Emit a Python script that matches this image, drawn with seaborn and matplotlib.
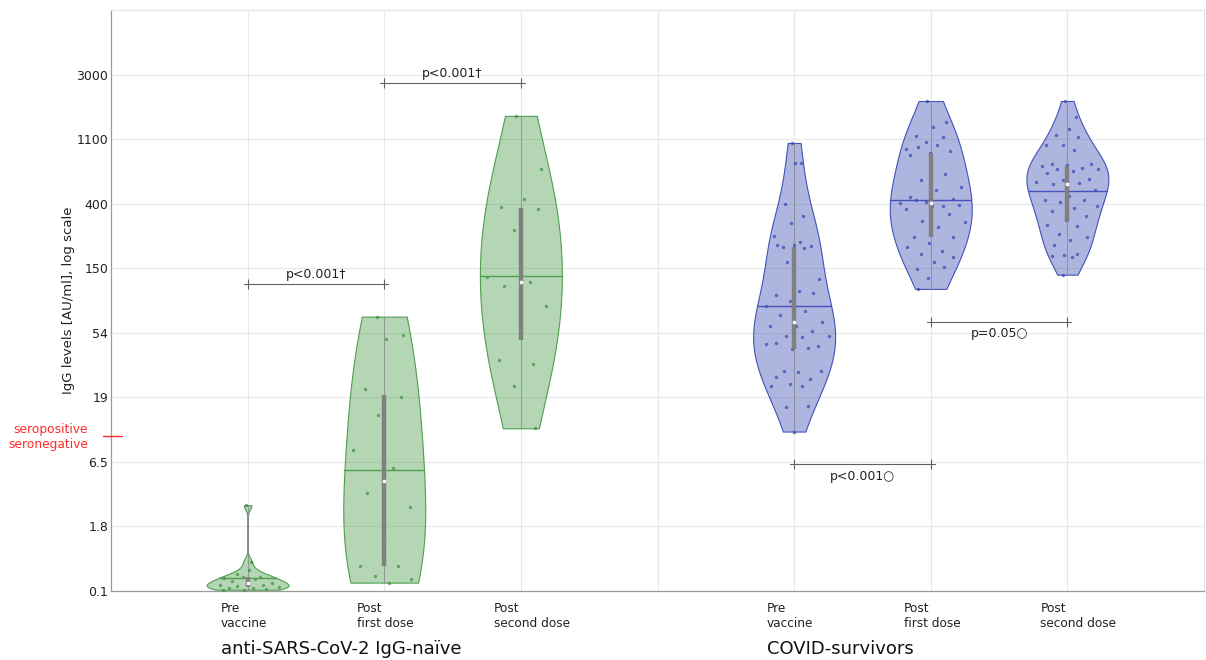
import numpy as np
import pandas as pd
import matplotlib
matplotlib.use("Agg")
import matplotlib.pyplot as plt
import matplotlib.transforms as mtransforms
import seaborn as sns

# ---------------- data ----------------
cond_order = ["naive_pre", "naive_first", "naive_second", "gap",
              "surv_pre", "surv_first", "surv_second"]
cond_labels = ["Pre\nvaccine", "Post\nfirst dose", "Post\nsecond dose", "",
               "Pre\nvaccine", "Post\nfirst dose", "Post\nsecond dose"]
group_labels = ["anti-SARS-CoV-2 IgG-naïve", "COVID-survivors"]
group_first = ["naive_pre", "surv_pre"]

# y axis: ln(1 + IgG [AU/ml]); tick positions and their labels
ytick_pos = [0, 1, 2, 3, 4, 5, 6, 7, 8, 9]
ytick_labels = ["0.1", "1.8", "6.5", "19", "54", "150", "400", "1100", "3000", ""]
seropos_threshold = 10  # AU/ml

# IgG levels, expressed as ln(1 + AU/ml)
naive_pre = [1.33, 0.45, 0.32, 0.27, 0.22, 0.21, 0.20, 0.18, 0.15, 0.13,
             0.12, 0.10, 0.09, 0.07, 0.06, 0.05, 0.04, 0.03, 0.02, 0.02]
naive_first = [4.25, 3.96, 3.90, 3.13, 3.01, 2.73, 2.19, 1.90, 1.52, 1.30,
               0.77, 0.39, 0.39, 0.23, 0.18, 0.13]
naive_second = [7.36, 6.53, 6.07, 5.95, 5.91, 5.59, 4.86, 4.79, 4.72, 4.42,
                4.19, 3.58, 3.51, 3.18, 2.52]
surv_pre = [6.94, 6.63, 6.63, 6.00, 5.81, 5.70, 5.50, 5.41, 5.33, 5.34,
            5.36, 5.36, 5.31, 5.10, 4.83, 4.64, 4.59, 4.61, 4.50, 4.41,
            4.34, 4.27, 4.16, 4.10, 4.10, 4.02, 3.95, 3.95, 3.93, 3.84,
            3.80, 3.75, 3.83, 3.76, 3.41, 3.41, 3.39, 3.32, 3.29, 3.20,
            3.17, 3.18, 2.85, 2.86, 2.47]
surv_first = [7.59, 7.26, 7.18, 7.05, 7.04, 6.96, 6.85, 6.91, 6.88, 6.81,
              6.78, 6.76, 6.46, 6.36, 6.26, 6.21, 6.11, 6.07, 6.03, 6.01,
              5.97, 6.06, 5.98, 5.96, 5.92, 5.84, 5.73, 5.71, 5.64, 5.48,
              5.49, 5.39, 5.33, 5.27, 5.22, 5.18, 5.09, 4.99, 5.02, 4.85, 4.68]
surv_second = [7.59, 7.35, 7.16, 7.06, 7.04, 6.91, 6.91, 6.83, 6.61, 6.61,
               6.60, 6.58, 6.55, 6.53, 6.53, 6.51, 6.48, 6.38, 6.36, 6.34,
               6.32, 6.30, 6.21, 6.12, 6.05, 6.05, 6.03, 5.96, 5.93, 5.88,
               5.81, 5.76, 5.67, 5.65, 5.53, 5.49, 5.43, 5.36, 5.22, 5.20,
               5.19, 5.17, 4.90]

# significance brackets: (from, to, level on ln(1+x) axis, text, side)
bracket_from = ["naive_pre", "naive_first", "surv_pre", "surv_first"]
bracket_to = ["naive_first", "naive_second", "surv_first", "surv_second"]
bracket_level = [4.757, 7.876, 1.961, 4.170]
bracket_text = ["p<0.001\u2020", "p<0.001\u2020", "p<0.001\u25CB", "p=0.05\u25CB"]
bracket_side = ["above", "above", "below", "below"]

series = {"naive_pre": naive_pre, "naive_first": naive_first,
          "naive_second": naive_second, "surv_pre": surv_pre,
          "surv_first": surv_first, "surv_second": surv_second}

df = pd.DataFrame([(k, v) for k, vals in series.items() for v in vals],
                  columns=["cond", "val"])

# ---------------- style ----------------
face = {"naive": (0.30, 0.62, 0.30, 0.42), "surv": (0.25, 0.32, 0.70, 0.42)}
edge = {"naive": "#4e9e4e", "surv": "#4252b8"}
dot = {"naive": "#3d8f3d", "surv": "#3344b0"}

sns.set_theme(style="white")
plt.rcParams["font.family"] = ["DejaVu Sans"]

fig = plt.figure(figsize=(12.06, 6.60), dpi=100)
ax = fig.add_axes([111 / 1206, 1 - 591 / 660, 1093 / 1206, 581 / 660])

pos_of = {c: i for i, c in enumerate(cond_order)}


def kde_factor(v):
    """MATLAB ksdensity-style bandwidth (robust sigma), as a factor of std."""
    v = np.asarray(v, dtype=float)
    sig = np.median(np.abs(v - np.median(v))) / 0.6745
    bw = sig * (4.0 / (3.0 * len(v))) ** 0.2
    return bw / v.std(ddof=1)


violin_coll = {}
for c, vals in series.items():
    cohort = "naive" if c.startswith("naive") else "surv"
    sub = df[df["cond"] == c]
    n0 = len(ax.collections)
    sns.violinplot(data=sub, x="cond", y="val", order=cond_order,
                   color=face[cohort][:3], saturation=1, inner=None, cut=0,
                   density_norm="width", width=0.6,
                   bw_method=kde_factor(vals),
                   linewidth=0.8, linecolor=edge[cohort], ax=ax, zorder=2)
    coll = ax.collections[n0]
    coll.set_facecolor(face[cohort])
    coll.set_edgecolor(edge[cohort])
    coll.set_linewidth(0.8)
    violin_coll[c] = coll


def half_width(coll, pos, yq):
    v = np.concatenate([p.vertices for p in coll.get_paths()])
    right = v[v[:, 0] > pos + 1e-9]
    o = np.argsort(right[:, 1])
    return np.interp(yq, right[o, 1], right[o, 0]) - pos


golden = 0.6180339887
for c, vals in series.items():
    cohort = "naive" if c.startswith("naive") else "surv"
    pos = pos_of[c]
    coll = violin_coll[c]
    y = np.asarray(vals, dtype=float)
    # whisker (min..max) thin line
    ax.plot([pos, pos], [y.min(), y.max()], color="#8c8c8c", lw=0.7,
            alpha=0.8, zorder=3)
    # jittered points, spread proportional to violin width
    frac = (np.arange(len(y)) * golden + 0.31) % 1.0
    xs = pos + 0.85 * (2 * frac - 1) * half_width(coll, pos, y)
    ax.scatter(xs, y, s=6, color=dot[cohort], alpha=0.7, lw=0, zorder=4)
    # mean line across the violin
    m = y.mean()
    hw = half_width(coll, pos, m)
    ax.plot([pos - hw, pos + hw], [m, m], color=edge[cohort], lw=1.0, zorder=5)
    # IQR bar and median dot
    q1, med, q3 = np.percentile(y, [25, 50, 75])
    ax.plot([pos, pos], [q1, q3], color="#808080", lw=3.2,
            solid_capstyle="butt", zorder=6)
    ax.plot([pos], [med], marker="s", ms=2.0, mfc="white", mec="white",
            zorder=7)

# significance brackets
for a, b, lev, txt, side in zip(bracket_from, bracket_to, bracket_level,
                                bracket_text, bracket_side):
    x0, x1 = pos_of[a], pos_of[b]
    ax.plot([x0 - 0.03, x1 + 0.03], [lev, lev], color="#606060", lw=0.8,
            zorder=5)
    ax.plot([x0, x1], [lev, lev], ls="", marker="|", ms=7, mew=0.8,
            color="#606060", zorder=5)
    if side == "above":
        ax.annotate(txt, xy=((x0 + x1) / 2, lev), xytext=(0, 2),
                    textcoords="offset points", ha="center", va="bottom",
                    fontsize=9, color="#222222")
    else:
        ax.annotate(txt, xy=((x0 + x1) / 2, lev), xytext=(0, -4),
                    textcoords="offset points", ha="center", va="top",
                    fontsize=9, color="#222222")

# ---------------- axes ----------------
ax.set_xlim(-1, 7)
ax.set_ylim(0, 9)
ax.set_xticks(range(0, 8))
ax.set_xticklabels([])
ax.set_yticks(ytick_pos)
ax.set_yticklabels(ytick_labels, fontsize=9, color="#222222")
ax.set_xlabel("")
ax.set_ylabel("IgG levels [AU/ml], log scale", fontsize=9.5, color="#222222")
ax.yaxis.set_label_coords(-0.0325, 0.5)
ax.grid(True, color="#e8e8e8", lw=0.8)
ax.set_axisbelow(True)
ax.tick_params(axis="both", direction="in", length=7, width=0.8,
               color="#8a8a8a", pad=2)
for s in ["left", "bottom"]:
    ax.spines[s].set_color("#9a9a9a")
    ax.spines[s].set_linewidth(0.9)
for s in ["top", "right"]:
    ax.spines[s].set_color("#e4e4e4")
    ax.spines[s].set_linewidth(0.8)

# category labels (left aligned) and cohort labels
for i, lab in enumerate(cond_labels):
    if lab:
        ax.annotate(lab, xy=(i, 0), xycoords=("data", "axes fraction"),
                    xytext=(-19.5, -8), textcoords="offset points",
                    ha="left", va="top", fontsize=8.7, color="#222222",
                    linespacing=1.2)
for c, lab in zip(group_first, group_labels):
    ax.annotate(lab, xy=(pos_of[c], 0), xycoords=("data", "axes fraction"),
                xytext=(-19.5, -35.5), textcoords="offset points",
                ha="left", va="top", fontsize=13, color="#111111")

# seropositive / seronegative threshold marker
thr = np.log1p(seropos_threshold)
blend = mtransforms.blended_transform_factory(ax.transAxes, ax.transData)
ax.plot([-0.0073, 0.010], [thr, thr], color="#ff2a2a", lw=1.0,
        transform=blend, clip_on=False, zorder=6)
ax.annotate("seropositive", xy=(-0.021, thr), xycoords=blend,
            xytext=(0, 4.8), textcoords="offset points", ha="right",
            va="center", fontsize=8.8, color="#ff2a2a")
ax.annotate("seronegative", xy=(-0.021, thr), xycoords=blend,
            xytext=(0, -5.8), textcoords="offset points", ha="right",
            va="center", fontsize=8.8, color="#ff2a2a")

fig.savefig("out.png", dpi=100)
